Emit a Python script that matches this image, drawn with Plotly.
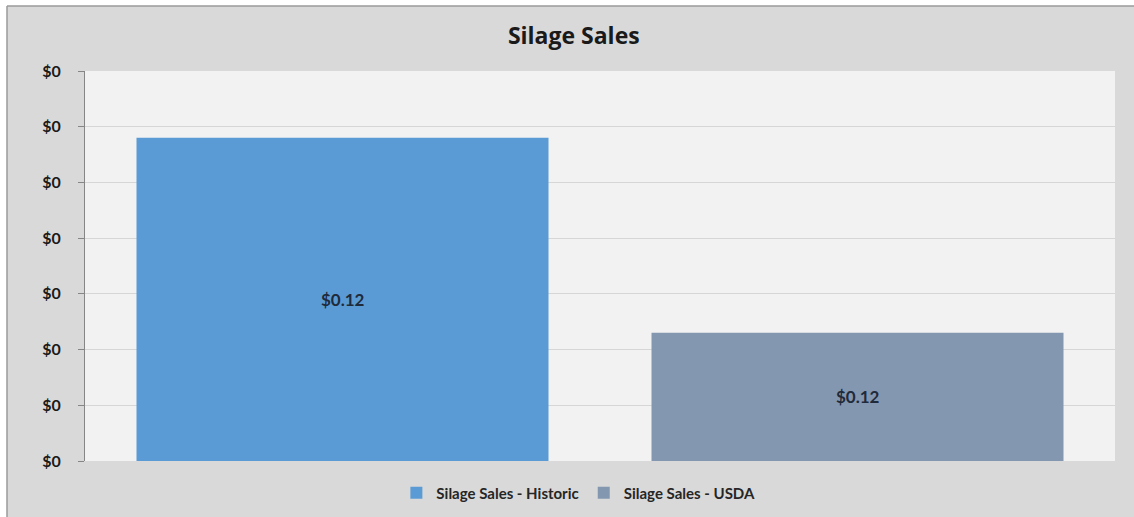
import plotly.graph_objects as go

# Silage sales per source (dollars)
series_names = ["Silage Sales - Historic", "Silage Sales - USDA"]
series_values = [0.1208, 0.1173]
series_colors = ["#5b9bd5", "#8497b0"]

y_min, y_max, y_step = 0.115, 0.122, 0.001

LATO = "Lato, Open Sans, sans-serif"

fig = go.Figure()
for name, val, col in zip(series_names, series_values, series_colors):
    fig.add_trace(go.Bar(
        x=[name], y=[val], name=name,
        marker=dict(color=col, line=dict(width=0)),
        hoverinfo="name+y",
    ))
    # value label centred in the visible part of each bar
    fig.add_annotation(
        x=name, y=(val + y_min) / 2, xref="x", yref="y",
        text=f"<b>${val:.2f}</b>", showarrow=False,
        font=dict(family=LATO, size=17, color="#1f2a3a"),
        xanchor="center", yanchor="middle",
    )

# outer chart frame: grey panel with a thin white strip at top and left
px_l, px_t, plot_w, plot_h = 85, 71, 1030, 390
def px_x(p):
    return (p - px_l) / plot_w
def px_y(p):
    return (px_t + plot_h - p) / plot_h

frame = [
    dict(type="rect", xref="paper", yref="paper", layer="above",
         x0=px_x(-2), x1=px_x(1140), y0=px_y(6), y1=px_y(-2),
         fillcolor="#ffffff", line=dict(width=0)),
    dict(type="rect", xref="paper", yref="paper", layer="above",
         x0=px_x(-2), x1=px_x(7), y0=px_y(520), y1=px_y(-2),
         fillcolor="#ffffff", line=dict(width=0)),
    dict(type="line", xref="paper", yref="paper", layer="above",
         x0=px_x(7), x1=px_x(1140), y0=px_y(6), y1=px_y(6),
         line=dict(color="#9a9a9a", width=1.5)),
    dict(type="line", xref="paper", yref="paper", layer="above",
         x0=px_x(7), x1=px_x(7), y0=px_y(6), y1=px_y(520),
         line=dict(color="#9a9a9a", width=1.5)),
]

fig.update_layout(
    width=1134, height=517,
    margin=dict(l=px_l, r=1134 - px_l - plot_w, t=px_t, b=517 - px_t - plot_h,
                autoexpand=False),
    paper_bgcolor="#d9d9d9",
    plot_bgcolor="#f2f2f2",
    barmode="overlay", bargap=0.2,
    title=dict(text="<b>Silage Sales</b>", x=0.506, y=0.930, xanchor="center", yanchor="middle",
               font=dict(family="Open Sans, sans-serif", size=23, color="#1a1a1a")),
    showlegend=True,
    legend=dict(orientation="h", x=0.479, xanchor="center", y=px_y(493), yanchor="middle",
                font=dict(family=LATO, size=15, color="#262626", weight="bold"),
                bgcolor="rgba(0,0,0,0)", itemwidth=30, traceorder="normal"),
    font=dict(family=LATO),
    shapes=frame,
)
fig.update_xaxes(showticklabels=False, showgrid=False, showline=False, zeroline=False,
                 range=[-0.5, 1.5])
fig.update_yaxes(range=[y_min, y_max], dtick=y_step, tick0=y_min, tickformat="$.0f",
                 showgrid=True, gridcolor="#d6d6d6", gridwidth=1,
                 showline=True, linecolor="#868686", linewidth=1,
                 ticks="outside", ticklen=6, tickcolor="#868686",
                 ticklabelstandoff=14, zeroline=False,
                 tickfont=dict(family=LATO, size=16, color="#1a1a1a", weight="bold"))

fig.write_html("out.html")
